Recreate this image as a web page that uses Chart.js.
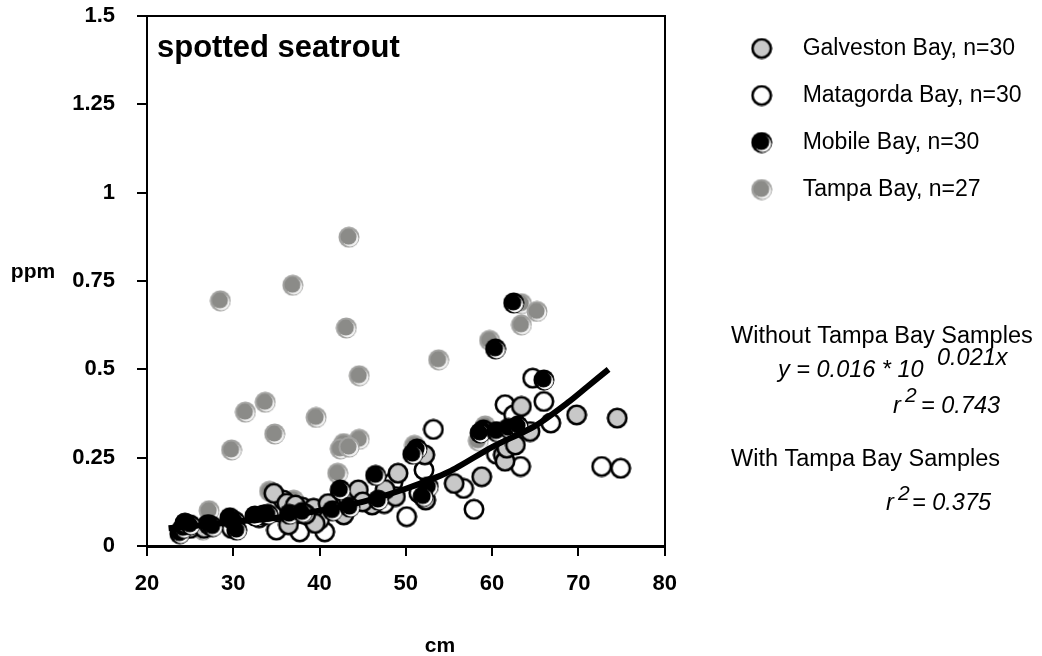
<!DOCTYPE html>
<html>
<head>
<meta charset="utf-8">
<script src="https://cdn.jsdelivr.net/npm/chart.js@4"></script>
<style>
  body { margin: 0; background: #fff; }
  canvas { display: block; }
</style>
</head>
<body>
<canvas id="chart" width="1042" height="656"></canvas>
<script>
// spotted seatrout mercury (ppm) vs length (cm), four bays

const galvestonX = [33.5, 34.7, 36.2, 36.4, 37.2, 39.3, 39.5, 38.4, 41.0, 42.8, 43.2, 44.5, 46.1, 48.8, 49.1, 47.6, 52.2, 52.3, 55.6, 58.8, 61.3, 61.5, 61.7, 62.7, 63.4, 64.4, 69.8, 74.5, 26.6, 45.0];
const galvestonY = [0.088, 0.149, 0.121, 0.060, 0.116, 0.107, 0.064, 0.090, 0.120, 0.088, 0.140, 0.159, 0.116, 0.140, 0.206, 0.160, 0.258, 0.130, 0.177, 0.196, 0.258, 0.240, 0.277, 0.286, 0.395, 0.324, 0.371, 0.362, 0.050, 0.125];

const matagordaX = [24.0, 25.0, 27.0, 29.8, 33.0, 35.0, 35.8, 37.7, 38.0, 40.6, 40.0, 42.4, 43.0, 47.5, 50.1, 51.5, 52.1, 53.2, 56.7, 57.9, 61.5, 62.5, 60.5, 63.3, 64.7, 66.0, 66.8, 72.7, 74.9, 48.5];
const matagordaY = [0.045, 0.050, 0.060, 0.050, 0.080, 0.045, 0.130, 0.040, 0.110, 0.040, 0.075, 0.144, 0.100, 0.120, 0.083, 0.150, 0.215, 0.330, 0.163, 0.104, 0.400, 0.371, 0.260, 0.225, 0.475, 0.409, 0.348, 0.225, 0.220, 0.180];

const mobileX = [23.8, 24.2, 24.4, 25.0, 27.2, 27.6, 29.6, 30.2, 30.4, 32.5, 34.0, 36.5, 38.0, 41.5, 42.4, 43.5, 46.5, 46.8, 51.3, 50.8, 52.6, 59.0, 58.6, 60.5, 61.9, 63.0, 52.0, 60.4, 62.5, 66.0];
const mobileY = [0.035, 0.050, 0.065, 0.060, 0.060, 0.055, 0.080, 0.070, 0.045, 0.085, 0.090, 0.090, 0.095, 0.100, 0.159, 0.110, 0.200, 0.130, 0.275, 0.260, 0.168, 0.329, 0.320, 0.324, 0.333, 0.340, 0.140, 0.558, 0.688, 0.470];

const tampaX = [28.5, 36.9, 43.4, 43.1, 44.6, 33.7, 31.4, 34.8, 39.6, 29.8, 44.6, 42.8, 42.4, 43.4, 42.1, 27.2, 53.8, 59.7, 63.4, 65.2, 63.4, 58.4, 26.5, 34.2, 59.2, 51.0, 37.0];
const tampaY = [0.694, 0.738, 0.874, 0.617, 0.482, 0.407, 0.379, 0.317, 0.364, 0.272, 0.302, 0.290, 0.275, 0.280, 0.206, 0.100, 0.527, 0.582, 0.686, 0.664, 0.626, 0.298, 0.045, 0.155, 0.340, 0.285, 0.130];

// fitted curve (without Tampa Bay)
const fitX = [22.5, 30, 35, 40, 45, 50, 55, 60, 65, 69, 71, 73.5];
const fitY = [0.05, 0.068, 0.08, 0.1, 0.125, 0.162, 0.21, 0.28, 0.34, 0.41, 0.45, 0.50];

const bayNames = ['Galveston Bay, n=30', 'Matagorda Bay, n=30', 'Mobile Bay, n=30', 'Tampa Bay, n=27'];
const yTicks = [0, 0.25, 0.5, 0.75, 1, 1.25, 1.5];

const FONT = "'Liberation Sans', Arial, sans-serif";

function toPoints(xs, ys){
    return xs.map((x, i) => ({x: x, y: ys[i]}));
}

function disc(g, x, y, r, color){
    g.beginPath();
    g.arc(x, y, r, 0, Math.PI * 2);
    g.fillStyle = color;
    g.fill();
}

// shaded disc with a light crescent at the lower right
function shinyMarker(edge, shine, fill){
    const c = document.createElement('canvas');
    c.width = 22; c.height = 22;
    const g = c.getContext('2d');
    disc(g, 11, 11, 10.5, edge);
    disc(g, 12.2, 12.2, 8.2, shine);
    disc(g, 10.6, 10.6, 8.0, fill);
    return c;
}

function ringMarker(fill){
    const c = document.createElement('canvas');
    c.width = 22; c.height = 22;
    const g = c.getContext('2d');
    g.beginPath();
    g.arc(11, 11, 9.2, 0, Math.PI * 2);
    g.fillStyle = fill;
    g.fill();
    g.lineWidth = 2.6;
    g.strokeStyle = '#000';
    g.stroke();
    return c;
}

const markers = [
    ringMarker('#c8c8c8'),
    ringMarker('#ffffff'),
    shinyMarker('#000000', '#ffffff', '#000000'),
    shinyMarker('#a3a3a1', '#f2f2f2', '#8b8b88')
];

const textPlugin = {
    id: 'texts',
    afterDraw(chart){
        const ctx = chart.ctx;
        const area = chart.chartArea;
        ctx.save();
        ctx.fillStyle = '#000';
        ctx.textBaseline = 'alphabetic';
        ctx.textAlign = 'left';

        ctx.font = `bold 31px ${FONT}`;
        ctx.fillText('spotted seatrout', area.left + 10, 57);

        ctx.font = `bold 21px ${FONT}`;
        ctx.textAlign = 'center';
        ctx.fillText('ppm', 33, 278);
        ctx.fillText('cm', 440, 652);

        ctx.textAlign = 'left';
        ctx.font = `23.5px ${FONT}`;
        ctx.fillText('Without Tampa Bay Samples', 731, 343);
        ctx.fillText('With Tampa Bay Samples', 731, 466);

        ctx.font = `italic 23.5px ${FONT}`;
        ctx.fillText('y = 0.016 * 10', 778, 377);
        ctx.fillText('0.021x', 937, 365);
        ctx.fillText('r', 893, 413);
        ctx.fillText('= 0.743', 921, 413);
        ctx.fillText('r', 886, 510);
        ctx.fillText('= 0.375', 912, 510);
        ctx.font = `italic 21px ${FONT}`;
        ctx.fillText('2', 905, 402);
        ctx.fillText('2', 898, 500);
        ctx.restore();
    }
};

const tickFont = {family: FONT, size: 22, weight: 'bold'};

const datasets = [
    {
        type: 'line',
        label: 'fit',
        data: toPoints(fitX, fitY),
        borderColor: '#000',
        borderWidth: 6,
        pointRadius: 0,
        tension: 0.25,
        fill: false,
        order: 0
    }
];
const xs = [galvestonX, matagordaX, mobileX, tampaX];
const ys = [galvestonY, matagordaY, mobileY, tampaY];
const drawOrder = [2, 3, 1, 4];
for(var i = 0; i < bayNames.length; i += 1){
    datasets.push({
        type: 'scatter',
        label: bayNames[i],
        data: toPoints(xs[i], ys[i]),
        pointStyle: markers[i],
        pointRadius: 10,
        order: drawOrder[i]
    });
}

function noPad(s){
    s.paddingTop = 0;
    s.paddingBottom = 0;
    s.paddingLeft = 0;
    s.paddingRight = 0;
}

new Chart(document.getElementById('chart'), {
    data: {datasets: datasets},
    plugins: [textPlugin],
    options: {
        responsive: false,
        animation: false,
        devicePixelRatio: 1,
        layout: {padding: {left: 0, top: 13, right: 10.5, bottom: 0}},
        plugins: {
            tooltip: {enabled: false},
            legend: {
                position: 'right',
                align: 'start',
                maxWidth: 360,
                labels: {
                    usePointStyle: true,
                    pointStyleWidth: 59,
                    padding: 24,
                    color: '#000',
                    font: {family: FONT, size: 23},
                    filter: item => item.text !== 'fit',
                    sort: (a, b) => a.datasetIndex - b.datasetIndex
                }
            }
        },
        scales: {
            x: {
                type: 'linear',
                position: 'bottom',
                min: 20,
                max: 80,
                afterFit: s => { s.height = 110; noPad(s); },
                border: {display: true, color: '#000', width: 3},
                grid: {display: true, drawOnChartArea: false, drawTicks: true, tickLength: 10, color: '#000', lineWidth: 2},
                ticks: {stepSize: 10, color: '#000', font: tickFont, padding: 15, maxRotation: 0}
            },
            y: {
                type: 'linear',
                position: 'left',
                min: 0,
                max: 1.5,
                afterFit: s => { s.width = 147; noPad(s); },
                border: {display: true, color: '#000', width: 2},
                grid: {display: true, drawOnChartArea: false, drawTicks: true, tickLength: 10, color: '#000', lineWidth: 2},
                afterBuildTicks: s => { s.ticks = yTicks.map(v => ({value: v})); },
                ticks: {color: '#000', font: tickFont, padding: 22, callback: v => String(v)}
            },
            xTop: {
                type: 'linear',
                position: 'top',
                min: 20,
                max: 80,
                afterFit: s => { s.height = 3; noPad(s); },
                border: {display: true, color: '#000', width: 2},
                grid: {display: false},
                ticks: {display: false}
            },
            yRight: {
                type: 'linear',
                position: 'right',
                min: 0,
                max: 1.5,
                afterFit: s => { s.width = 43.5; noPad(s); },
                border: {display: true, color: '#000', width: 2},
                grid: {display: false},
                ticks: {display: false}
            }
        }
    }
});
</script>
</body>
</html>
